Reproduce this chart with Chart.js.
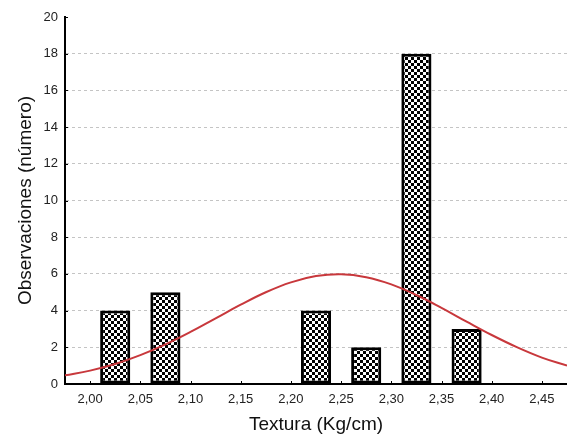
<!DOCTYPE html>
<html><head><meta charset="utf-8">
<script src="https://cdn.jsdelivr.net/npm/chart.js@4/dist/chart.umd.min.js"></script>
<style>html,body{margin:0;padding:0;background:#fff}#wrap{width:567px;height:439px}</style>
</head><body><div id="wrap"><canvas id="c" width="567" height="439"></canvas></div>
<script>
// Histogram bins (centres) and counts
const binCentres = [2.025, 2.075, 2.225, 2.275, 2.325, 2.375];
const counts = [4, 5, 4, 2, 18, 3];
// Fitted curve
const curveX = [1.975, 2.000, 2.025, 2.050, 2.075, 2.100, 2.125, 2.150, 2.175, 2.200, 2.225, 2.250, 2.275, 2.300, 2.325, 2.350, 2.375, 2.400, 2.425, 2.450, 2.475];
const curveY = [0.47, 0.73, 1.09, 1.57, 2.16, 2.84, 3.58, 4.32, 5.00, 5.54, 5.88, 5.98, 5.82, 5.43, 4.85, 4.15, 3.40, 2.67, 2.01, 1.44, 1.00];
const xTicks = [2.00, 2.05, 2.10, 2.15, 2.20, 2.25, 2.30, 2.35, 2.40, 2.45];
const yTicks = [0, 2, 4, 6, 8, 10, 12, 14, 16, 18, 20];

function checker() {
  const p = document.createElement('canvas');
  p.width = 6; p.height = 6;
  const g = p.getContext('2d');
  g.fillStyle = '#fff'; g.fillRect(0, 0, 6, 6);
  g.fillStyle = '#000'; g.fillRect(0, 0, 3, 3); g.fillRect(3, 3, 3, 3);
  return document.getElementById('c').getContext('2d').createPattern(p, 'repeat');
}

const innerTicks = {
  id: 'innerTicks',
  afterDatasetsDraw(chart) {
    const ctx = chart.ctx, xs = chart.scales.x, ys = chart.scales.y, a = chart.chartArea;
    ctx.save(); ctx.strokeStyle = '#000'; ctx.lineWidth = 1;
    xTicks.forEach(v => { const px = Math.round(xs.getPixelForValue(v)) + 0.5; ctx.beginPath(); ctx.moveTo(px, a.bottom); ctx.lineTo(px, a.bottom - 3); ctx.stroke(); });
    yTicks.forEach(v => { const py = Math.round(ys.getPixelForValue(v)) + 0.5; ctx.beginPath(); ctx.moveTo(a.left, py); ctx.lineTo(a.left + 3, py); ctx.stroke(); });
    ctx.restore();
  }
};

const font = "'Liberation Sans', Arial, sans-serif";
new Chart(document.getElementById('c'), {
  type: 'bar',
  data: {
    datasets: [
      {
        type: 'line', order: 0,
        data: curveX.map((x, i) => ({x: x, y: curveY[i]})),
        borderColor: '#c8383c', borderWidth: 2, pointRadius: 0, tension: 0.4, fill: false
      },
      {
        type: 'bar', order: 1,
        data: binCentres.map((x, i) => ({x: x, y: counts[i]})),
        backgroundColor: checker(), borderColor: '#000', borderWidth: 3, borderSkipped: false,
        barPercentage: 0.6, categoryPercentage: 1.0
      }
    ]
  },
  options: {
    responsive: false, animation: false,
    layout: {padding: {top: 17, right: 0, left: 0, bottom: 0}},
    plugins: {legend: {display: false}, tooltip: {enabled: false}},
    scales: {
      x: {
        type: 'linear', min: 1.975, max: 2.475, offset: false,
        afterBuildTicks: s => { s.ticks = xTicks.map(v => ({value: v})); },
        afterFit: s => { s.height = 55; },
        ticks: {color: '#222', font: {family: font, size: 13}, padding: 8, maxRotation: 0,
          callback: v => Number(v).toFixed(2).replace('.', ',')},
        grid: {display: false, drawTicks: false},
        border: {display: true, color: '#000', width: 2},
        title: {display: true, text: 'Textura (Kg/cm)', color: '#111', font: {family: font, size: 19}, padding: {top: 3, bottom: 3}}
      },
      y: {
        min: 0, max: 20,
        afterBuildTicks: s => { s.ticks = yTicks.map(v => ({value: v})); },
        afterFit: s => { s.width = 65; },
        ticks: {color: '#222', font: {family: font, size: 13}, padding: 7},
        grid: {drawTicks: false, color: c => (c.tick && (c.tick.value === 0 || c.tick.value === 20)) ? 'rgba(0,0,0,0)' : '#c4c4c4', lineWidth: 1},
        border: {display: true, color: '#000', width: 2, dash: [3, 3]},
        title: {display: true, text: 'Observaciones (número)', color: '#111', font: {family: font, size: 19}, padding: {top: 14, bottom: 0}}
      }
    }
  },
  plugins: [innerTicks]
});
</script></body></html>
